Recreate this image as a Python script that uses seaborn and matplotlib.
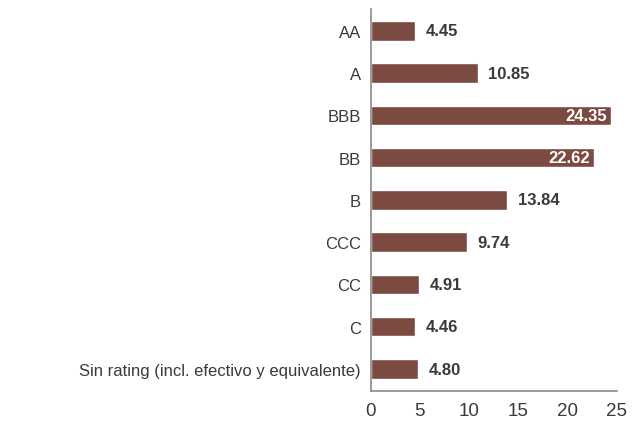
import matplotlib
matplotlib.use("Agg")
import matplotlib.pyplot as plt
import pandas as pd
import seaborn as sns

# Data
ratings = ["AA", "A", "BBB", "BB", "B", "CCC", "CC", "C",
           "Sin rating (incl. efectivo y equivalente)"]
values = [4.45, 10.85, 24.35, 22.62, 13.84, 9.74, 4.91, 4.46, 4.80]
x_ticks = [0, 5, 10, 15, 20, 25]

BAR_COLOR = "#7B4A41"
TEXT_COLOR = "#3a3a3a"

sns.set_style("white")
plt.rcParams["font.family"] = ["Liberation Sans Narrow", "Liberation Sans", "DejaVu Sans"]

df = pd.DataFrame({"rating": ratings, "value": values})

fig = plt.figure(figsize=(6.38, 4.27), dpi=100)
ax = fig.add_axes([0.581, 0.082, 0.386, 0.895])

sns.barplot(data=df, x="value", y="rating", orient="h", color=BAR_COLOR,
            width=0.46, saturation=1, ax=ax)

# value labels: inside (white) for long bars, outside (dark) otherwise
for i, v in enumerate(values):
    if v > 20:
        ax.text(v - 0.4, i, f"{v:.2f}", ha="right", va="center",
                fontsize=12, fontweight="bold", color="white")
    else:
        ax.text(v + 1.1, i, f"{v:.2f}", ha="left", va="center",
                fontsize=12, fontweight="bold", color=TEXT_COLOR)

ax.set_xlim(0, 25)
ax.set_ylim(len(ratings) - 0.48, -0.52)
ax.set_xticks(x_ticks)
ax.set_xticklabels([str(t) for t in x_ticks])
ax.set_xlabel("")
ax.set_ylabel("")
ax.tick_params(axis="y", length=0, labelsize=12, colors=TEXT_COLOR, pad=7)
ax.tick_params(axis="x", length=0, labelsize=13.5, colors=TEXT_COLOR, pad=8)
ax.spines[["top", "right"]].set_visible(False)
for s in ["left", "bottom"]:
    ax.spines[s].set_color("#8a8a8a")
    ax.spines[s].set_linewidth(1.2)

fig.savefig("out.png", dpi=100)
